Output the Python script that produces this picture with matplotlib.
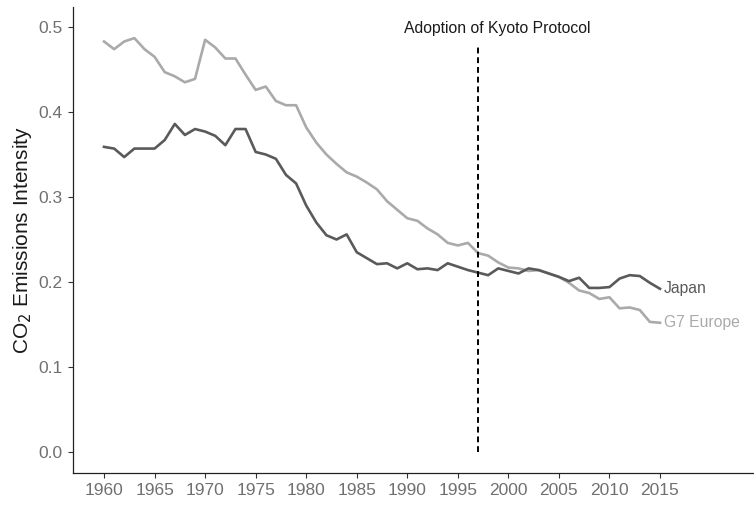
import numpy as np
import matplotlib
matplotlib.use("Agg")
import matplotlib.pyplot as plt

plt.rcParams['font.family'] = ['Liberation Sans', 'DejaVu Sans']

years = np.arange(1960, 2016)

japan = [0.359, 0.357, 0.347, 0.357, 0.357, 0.357, 0.367, 0.386, 0.373, 0.380,
         0.377, 0.372, 0.361, 0.380, 0.380, 0.353, 0.350, 0.345, 0.326, 0.316,
         0.290, 0.270, 0.255, 0.250, 0.256, 0.235, 0.228, 0.221, 0.222, 0.216,
         0.222, 0.215, 0.216, 0.214, 0.222, 0.218, 0.214, 0.211, 0.208, 0.216,
         0.213, 0.210, 0.216, 0.214, 0.210, 0.206, 0.201, 0.205, 0.193, 0.193,
         0.194, 0.204, 0.208, 0.207, 0.199, 0.192]

g7_europe = [0.483, 0.474, 0.483, 0.487, 0.474, 0.465, 0.447, 0.442, 0.435, 0.439,
             0.485, 0.476, 0.463, 0.463, 0.444, 0.426, 0.430, 0.413, 0.408, 0.408,
             0.382, 0.364, 0.350, 0.339, 0.329, 0.324, 0.317, 0.309, 0.295, 0.285,
             0.275, 0.272, 0.263, 0.256, 0.246, 0.243, 0.246, 0.234, 0.231, 0.223,
             0.217, 0.216, 0.213, 0.214, 0.210, 0.206, 0.199, 0.190, 0.187, 0.180,
             0.182, 0.169, 0.170, 0.167, 0.153, 0.152]

kyoto_year = 1997
xticks = np.arange(1960, 2020, 5)
yticks = [0.0, 0.1, 0.2, 0.3, 0.4, 0.5]

fig = plt.figure(figsize=(7.54, 5.05), dpi=100)
ax = fig.add_axes([73 / 754, 1 - 473 / 505, 1 - 73 / 754, (473 - 7) / 505])

ax.plot(years, g7_europe, color='#aaaaaa', lw=1.9, solid_joinstyle='round')
ax.plot(years, japan, color='#5a5a5a', lw=1.9, solid_joinstyle='round')

ax.vlines(kyoto_year, 0, 0.477, colors='black', linestyles=(0, (3, 2)), lw=1.4)
ax.text(1998.9, 0.498, 'Adoption of Kyoto Protocol', ha='center', va='center',
        fontsize=11.3, color='#1a1a1a')

ax.text(years[-1] + 0.4, japan[-1], 'Japan', ha='left', va='center',
        fontsize=11.3, color='#5a5a5a')
ax.text(years[-1] + 0.4, g7_europe[-1], 'G7 Europe', ha='left', va='center',
        fontsize=11.3, color='#aaaaaa')

ax.set_xlim(1956.93, 2024.3)
ax.set_ylim(-0.0248, 0.5236)
ax.set_xticks(xticks)
ax.set_yticks(yticks)
ax.set_yticklabels(['%.1f' % v for v in yticks])
ax.tick_params(axis='both', length=3.5, width=0.8, color='#333333',
               labelcolor='#707070', labelsize=12.5, pad=4)

ax.set_ylabel('CO$_2$ Emissions Intensity', fontsize=15, color='#1a1a1a', labelpad=3)

for s in ['top', 'right']:
    ax.spines[s].set_visible(False)
for s in ['left', 'bottom']:
    ax.spines[s].set_color('#222222')
    ax.spines[s].set_linewidth(0.9)

fig.savefig('out.png', dpi=100)
